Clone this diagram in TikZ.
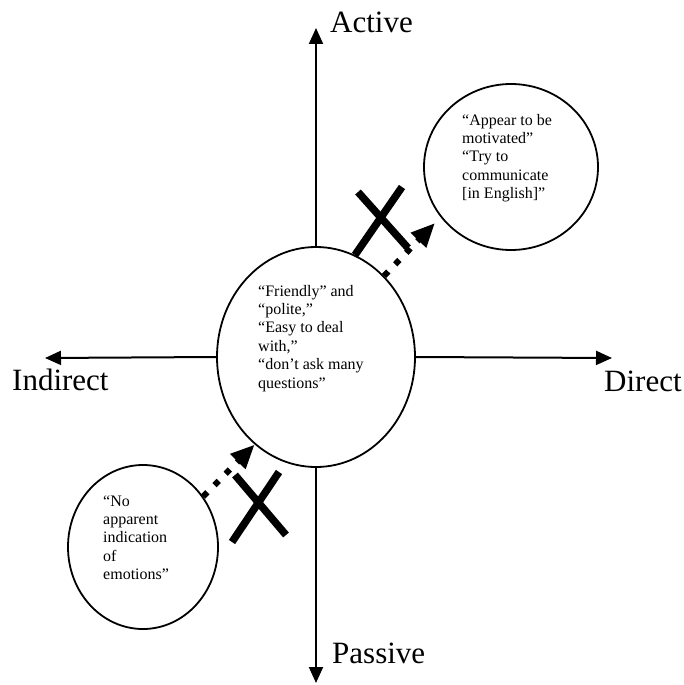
\documentclass[tikz,border=0pt]{standalone}
\usepackage{fontspec}
\setmainfont{Liberation Serif}
\usetikzlibrary{arrows.meta,shapes.geometric}
\begin{document}
\begin{tikzpicture}[x=1pt,y=-1pt,
  axis/.style={line width=2pt,-{Triangle[length=16pt,width=14pt]}},
  bubble/.style={draw,ellipse,line width=1.8pt,inner sep=0pt},
  blocked/.style={line width=6pt,dash pattern=on 6pt off 10pt,-{Triangle[length=24pt,width=20pt]}},
  cross/.style={line width=7.5pt},
  note/.style={anchor=base west,inner sep=0pt,font=\fontsize{16}{18.4}\selectfont},
  pole/.style={anchor=base west,inner sep=0pt,font=\fontsize{31}{36}\selectfont}]
\useasboundingbox (0,0) rectangle (684,685);

% the three groups
\node[bubble,minimum width=198pt,minimum height=220pt] (c) at (316,357) {};
\node[bubble,minimum width=174pt,minimum height=166pt] (ur) at (511,167) {};
\node[bubble,minimum width=150pt,minimum height=164pt] (ll) at (143,547) {};

\node[note] (ctext) at (258,296) {\begin{tabular}[t]{@{}l@{}}“Friendly” and\\“polite,”\\“Easy to deal\\with,”\\“don’t ask many\\questions”\end{tabular}};
\node[note] (urtext) at (462,125) {\begin{tabular}[t]{@{}l@{}}“Appear to be\\motivated”\\“Try to\\communicate\\{[in English]”}\end{tabular}};
\node[note] (lltext) at (103,506) {\begin{tabular}[t]{@{}l@{}}“No\\apparent\\indication\\of\\emotions”\end{tabular}};

% axes
\coordinate (top) at (316,28);
\coordinate (bottom) at (316,683);
\coordinate (left) at (45,358);
\coordinate (right) at (612,358);
\draw[axis] (c.north) -- (top);
\draw[axis] (c.south) -- (bottom);
\draw[axis] (c.west) -- (left);
\draw[axis] (c.east) -- (right);

\node[pole] (active) at (330,33) {Active};
\node[pole] (passive) at (332,663) {Passive};
\node[pole] (indirect) at (12,390) {Indirect};
\node[pole] (direct) at (604,391) {Direct};

% blocked moves
\coordinate (aim) at (435,223);
\draw[blocked] (c.50) -- (aim);
\draw[blocked] (ll.40) -- (c.235);

\draw[cross] (358,192) -- (408,248);
\draw[cross] (402,187) -- (355,255);
\draw[cross] (235,475) -- (286,535);
\draw[cross] (279,472) -- (232,542);
\end{tikzpicture}
\end{document}
